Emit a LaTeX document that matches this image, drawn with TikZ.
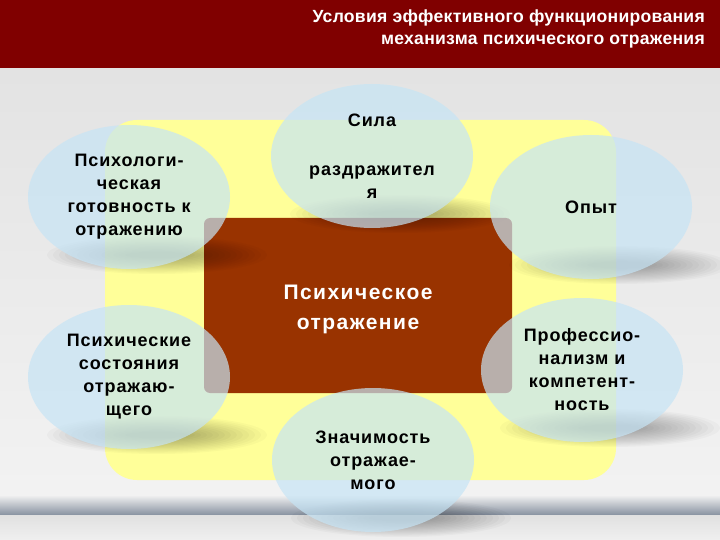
\documentclass[tikz,border=0pt]{standalone}
\usepackage{fontspec}
\setmainfont{Liberation Sans}
\newfontfamily\bubblefont[LetterSpace=5]{Liberation Sans}
\newfontfamily\corefont[LetterSpace=7]{Liberation Sans}
\newfontfamily\headfont[LetterSpace=1.5]{Liberation Sans}
\usetikzlibrary{shapes.geometric}
\definecolor{banner}{RGB}{128,0,0}
\definecolor{pad}{RGB}{255,255,153}
\definecolor{core}{RGB}{153,51,0}
\definecolor{bubble}{RGB}{198,228,245}
\definecolor{floorline}{RGB}{135,145,160}

\begin{document}
\begin{tikzpicture}[x=1pt,y=-1pt,
   bubble/.style={ellipse,fill=bubble,fill opacity=.7,text opacity=1,
      minimum width=202pt,minimum height=144pt,inner sep=0pt,align=center,
      font=\bubblefont\bfseries\fontsize{18}{23}\selectfont},
   corebox/.style={fill=core,rounded corners=6pt,minimum width=308pt,
      minimum height=175pt,inner sep=0pt},
   coretext/.style={text=white,align=center,inner sep=0pt,
      font=\corefont\bfseries\fontsize{21}{30}\selectfont},
   headtext/.style={text=white,align=right,inner sep=0pt,anchor=north east,
      font=\headfont\bfseries\fontsize{17.6}{22}\selectfont}]

\useasboundingbox (0,0) rectangle (720,540);

% backdrop
\shade[top color=gray!22,bottom color=gray!10] (0,68) rectangle (720,495);
\shade[top color=gray!10,bottom color=floorline] (0,495) rectangle (720,515);
\shade[top color=gray!24,bottom color=gray!12] (0,515) rectangle (720,540);
\fill[banner] (0,0) rectangle (720,68);
\node[headtext] (title) at (705,10)
   {Условия эффективного функционирования\\механизма психического отражения};

% yellow pad and the core
\fill[pad,rounded corners=32pt] (105,120) rectangle (616,480);
\node[corebox] (core) at (358,305.5) {};
\node[coretext,yshift=-4pt] (coretxt) at (core.center) {Психическое\\отражение};

% soft shadows under the bubbles
\foreach \cx/\cy in {129/197,372/156,591/207,129/377,582/370,373/460}
  \foreach \k in {0,...,13}
    \fill[black,opacity=.022] (\cx+28,\cy+58) ellipse ({110-6*\k} and {19-1.2*\k});

% bubbles
\node[bubble] (ready) at (129,197) {Психологи-\\ческая\\готовность к\\отражению};
\node[bubble] (force) at (372,156) {Сила\\[26pt]раздражител\\я};
\node[bubble] (exper) at (591,207) {Опыт};
\node[bubble] (state) at (129,377) {Психические\\состояния\\отражаю-\\щего};
\node[bubble] (skill) at (582,370) {Профессио-\\нализм и\\компетент-\\ность};
\node[bubble] (value) at (373,460) {Значимость\\отражае-\\мого};

\end{tikzpicture}
\end{document}
